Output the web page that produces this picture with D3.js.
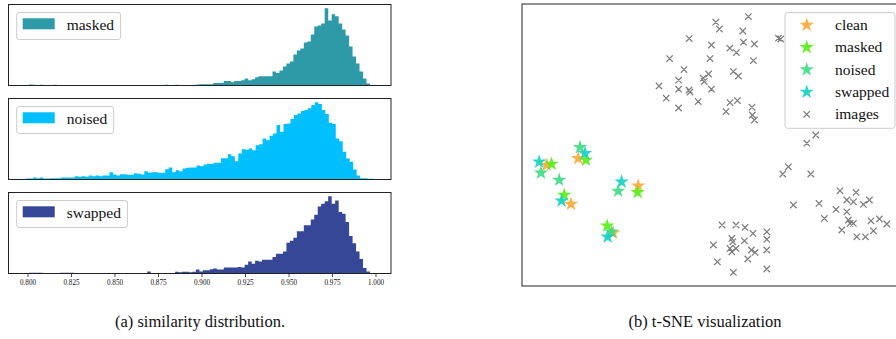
<!DOCTYPE html>
<html><head><meta charset="utf-8">
<script src="https://cdn.jsdelivr.net/npm/d3@7"></script>
<style>body{margin:0;background:#fff}svg{display:block}svg text{font-family:'Liberation Serif','Times New Roman',Times,serif !important;fill:#111}</style>
</head><body><svg id="c" width="896" height="339"></svg>
<script>
// ---------- histogram data (counts per bin, arbitrary units) ----------
const binWidth = 0.002;
const histNames = ["masked", "noised", "swapped"];
const histBinStarts = [0.8008, 0.79914, 0.8008];
const histColors = ["#2e9aa8", "#00bfff", "#354796"];
const masked = [1,0.7,0,0.7,0.5,0,0,0.7,
  0,0,0,0,0,0,0,0,0,0,0,0,0,0,0,0,0,0,0,0,0,0,0,0,0,0,0,0,0,0,0,
  0.7,0,0,0.7,0,0,0,0,0,
  1,1.3,1.3,1.3,1.3,2.6,2.6,2.6,
  4.6,4.6,3.3,4.6,4.6,5.3,7,5.3,6.3,8.3,9.3,9.3,9.3,9.3,14,12.6,15,19,22,24,31,35,37,43,44,51,59,60,62,77,65,71,69,62,56,50,39,29,22,14,7,2];
const noised = [1,1,2,1.3,2,1,1,1.3,1.3,1.3,
  2,2,2,2,3.3,2.7,3.3,2.7,4,3.3,
  4,3.3,4,4,7.3,5,4,5.3,5.3,4.7,
  4.7,6.3,5.7,5,8.3,6.7,7.3,7.3,6.7,6.7,
  10.3,12,7.3,9.3,8.3,11,11.7,12,12,14,
  13.3,15,15.7,15.7,16.7,16.7,21.3,21.3,25.3,23.3,
  18.3,26,30.3,29.7,31,29.3,34.3,35.3,41,39.3,
  43.7,46,54.3,47.7,55.3,56,60.3,64.3,66,68.3,
  69.3,71,74.3,77,75.3,69.3,65.3,56.7,55.3,41,
  38.3,27.7,21,17.7,10,4,1.3,1.3,0.7,0.7];
const swapped = [0.7,0.7,0.7,0.7,0.5,0.5,0,0,0,0.7,0.7,0.7,0.7,0.5,
  0,0,0,0,0,0,0,0,0,0,0,0,0,0,0,0,0,0,0,0,
  2,0,0,0,0,0,0,0,
  1.7,1.3,1.7,1.7,1.3,1.7,
  4,2,3.3,3.3,4.3,5,4,4,6,6,6,6,6.7,6,9,12.3,10,13,12.3,14,14,14,16.7,20,20,22.3,
  31.3,33.3,36.3,43,43,49,49,54.7,59.7,68,70.7,73.3,78.3,70.7,74,62.3,60.7,52.3,38,30.7,22.3,14.7,5.7,2];
const histTicks = [0.800, 0.825, 0.850, 0.875, 0.900, 0.925, 0.950, 0.975, 1.000];

// ---------- t-SNE data ----------
const scatterNames = ["clean", "masked", "noised", "swapped", "images"];
const starColors = ["#ffa733", "#55ee11", "#3ddc84", "#11d2c2"];
const cleanPts   = [[-65.4,-6.7],[-81.2,-10],[-69,-29.5],[-35.4,-20.4],[-47.9,-43.9]];
const maskedPts  = [[-61.5,-7.5],[-78.7,-9.5],[-72.4,-25],[-35.7,-23.7],[-50.9,-40.4]];
const noisedPts  = [[-64.5,-1.2],[-84,-13.9],[-74.9,-17.5],[-45.4,-23],[-48.7,-43.4]];
const swappedPts = [[-62,-4.2],[-84.9,-8.4],[-73.7,-27.9],[-43.7,-18.4],[-50.7,-45.9]];
const imagePts = [[19.7,64.2],[3.4,61.4],[5.2,58],[16.9,57],[-9.9,53.2],[1.2,50],[10.4,48.4],[17.2,51.4],
  [22.7,50.5],[13.7,46.2],[34.7,53.4],[35.9,53],[-19.7,43.2],[0.5,43.2],[22.2,42.2],[-12.5,37.7],
  [12.2,36.7],[14.7,34.5],[-0.2,35.5],[-2.9,33.4],[-2.4,31.7],[-15.2,32.4],[-25,29.5],[-15.2,27.9],
  [-10,27.5],[-9.5,26.5],[1.2,27.9],[-21.4,23.4],[-5.4,21.7],[-15.2,18.5],[10.5,21.2],[14.2,22.2],
  [8.5,16.7],[21.5,18.9],[21.7,15],[22.7,12.5],[53.4,5],[48.9,0.9],[39.7,-10.9],[36.9,-14.5],
  [50.9,-14.5],[42.2,-30],[55,-29.2],[65.5,-22.9],[73.5,-23.7],[68.9,-27.5],[72.2,-28.4],[80.2,-27.5],
  [77.2,-29.7],[63.5,-32.2],[68.9,-33.4],[57.7,-36.7],[69.7,-37.5],[70.5,-39.2],[72.2,-39.2],[81,-37.9],
  [85.2,-37],[88.9,-39.5],[66.4,-42.5],[82.2,-42.9],[73.9,-45.9],[78.2,-45.9],[6.5,-40],[13.5,-40],
  [18,-41.2],[22,-44.2],[28.9,-43.4],[28.9,-47.2],[11.4,-46.7],[11.9,-48.4],[17.7,-47.9],[2.2,-50],
  [10.5,-51.7],[13.5,-51.7],[11.4,-53.4],[21.2,-52.5],[23,-53.7],[28.9,-52.5],[19.4,-57],[4.2,-58.4],
  [28.9,-62],[12.2,-63.7]];

const captions = ["(a) similarity distribution.", "(b) t-SNE visualization"];

// ---------- drawing ----------
const FONT = "'Liberation Serif','Times New Roman',Times,serif";
const svg = d3.select("#c");
const H = { left: 8.5, right: 391, tops: [4.5, 98.5, 192.5], h: 81 };
const hx = d3.scaleLinear().domain([0.8, 1.0]).range([27.5, 375.5]);
const histData = [masked, noised, swapped];

histData.forEach((vals, si) => {
  const top = H.tops[si], bot = top + H.h;
  const hy = d3.scaleLinear().domain([0, d3.max(vals) * 1.05]).range([bot, top]);
  const g = svg.append("g");
  const start = histBinStarts[si];
  const p = d3.path();
  vals.forEach((v, i) => {
    if (v <= 0) return;
    const x0 = hx(start + i * binWidth), x1 = hx(start + (i + 1) * binWidth);
    p.rect(x0, hy(v), x1 - x0 + 0.05, bot - hy(v));
  });
  g.append("path").attr("d", p.toString()).attr("fill", histColors[si]);
  g.append("rect").attr("x", H.left).attr("y", top).attr("width", H.right - H.left).attr("height", H.h)
    .attr("fill", "none").attr("stroke", "#222").attr("stroke-width", 1);
  // legend
  const lg = g.append("g");
  const box = lg.append("rect").attr("x", 16.7).attr("y", top + 8).attr("height", 27).attr("rx", 2.5)
    .attr("fill", "#fff").attr("fill-opacity", 0.8).attr("stroke", "#cccccc").attr("stroke-width", 1);
  lg.append("rect").attr("x", 22.7).attr("y", top + 13.8).attr("width", 32).attr("height", 11).attr("fill", histColors[si]);
  const t = lg.append("text").attr("x", 66.7).attr("y", top + 25.4).attr("font-family", FONT).attr("font-size", 15.5).text(histNames[si]);
  const tw = t.node().getComputedTextLength();
  box.attr("width", 66.7 + tw + 6.5 - 16.7);
  if (si === 2) {
    const ax = d3.axisBottom(hx).tickValues(histTicks).tickFormat(d3.format(".3f")).tickSize(3.5).tickPadding(2.5);
    const a = svg.append("g").attr("transform", `translate(0,${bot})`).call(ax).attr("font-family", FONT);
    a.select(".domain").remove();
    a.selectAll("line").attr("stroke", "#222").attr("stroke-width", 0.8);
    a.selectAll("text").attr("font-size", 7.2).attr("font-family", FONT).attr("fill", "#111");
  }
});

// scatter panel
const S = { left: 522, right: 896, top: 4, bottom: 286 };
const sx = d3.scaleLinear().domain([-93.5, 93.5]).range([S.left, S.right]);
const sy = d3.scaleLinear().domain([-70.5, 70.5]).range([S.bottom, S.top]);
svg.append("clipPath").attr("id", "clipS").append("rect")
  .attr("x", S.left).attr("y", S.top).attr("width", S.right - S.left).attr("height", S.bottom - S.top);
const sg = svg.append("g").attr("clip-path", "url(#clipS)");
const xr = 3.2;
const xp = d3.path();
imagePts.forEach(p => {
  const cx = sx(p[0]), cy = sy(p[1]);
  xp.moveTo(cx - xr, cy - xr); xp.lineTo(cx + xr, cy + xr);
  xp.moveTo(cx - xr, cy + xr); xp.lineTo(cx + xr, cy - xr);
});
sg.append("path").attr("d", xp.toString()).attr("stroke", "#7f7f7f").attr("stroke-width", 1.25).attr("fill", "none");
const star = d3.symbol().type(d3.symbolStar).size(64);
[cleanPts, maskedPts, noisedPts, swappedPts].forEach((pts, gi) => {
  sg.selectAll(null).data(pts).join("path")
    .attr("d", star)
    .attr("transform", d => `translate(${sx(d[0])},${sy(d[1])})`)
    .attr("fill", starColors[gi]).attr("fill-opacity", 0.9);
});
svg.append("rect").attr("x", S.left).attr("y", S.top).attr("width", S.right - S.left + 2).attr("height", S.bottom - S.top)
  .attr("fill", "none").attr("stroke", "#222").attr("stroke-width", 1);

// scatter legend
const L = svg.append("g");
L.append("rect").attr("x", 785).attr("y", 12.7).attr("width", 110).attr("height", 115.6).attr("rx", 2.5)
  .attr("fill", "#fff").attr("fill-opacity", 0.8).attr("stroke", "#cccccc").attr("stroke-width", 1);
const rowY = d3.scalePoint().domain(scatterNames).range([25, 114.3]);
scatterNames.forEach((n, i) => {
  const y = rowY(n);
  if (i < 4) {
    L.append("path").attr("d", star).attr("transform", `translate(806.7,${y})`).attr("fill", starColors[i]).attr("fill-opacity", 0.9);
  } else {
    L.append("path").attr("d", `M${806.7 - xr},${y - xr}L${806.7 + xr},${y + xr}M${806.7 - xr},${y + xr}L${806.7 + xr},${y - xr}`)
      .attr("stroke", "#7f7f7f").attr("stroke-width", 1.25);
  }
  L.append("text").attr("x", 835).attr("y", y + 5).attr("font-family", FONT).attr("font-size", 15.5).text(n);
});

// captions
svg.append("text").attr("x", 200).attr("y", 327).attr("text-anchor", "middle").attr("font-family", FONT).attr("font-size", 16.5).text(captions[0]);
svg.append("text").attr("x", 705).attr("y", 327).attr("text-anchor", "middle").attr("font-family", FONT).attr("font-size", 16.5).text(captions[1]);
</script></body></html>
